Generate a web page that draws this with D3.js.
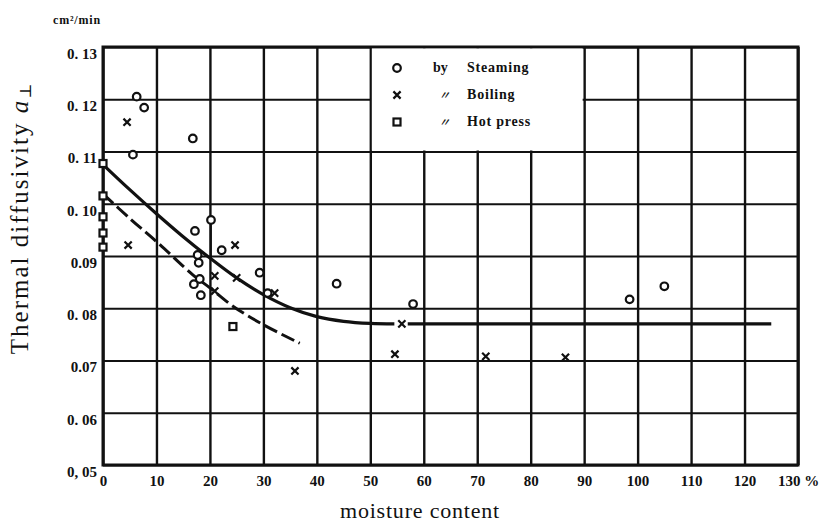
<!DOCTYPE html>
<html>
<head>
    <meta charset="utf-8">
    <title>Thermal diffusivity vs moisture content</title>
    <script src="https://cdn.jsdelivr.net/npm/d3@7"></script>
    <style>
        body { margin: 0; background: #fff; }
        svg { font-family: 'Liberation Serif', 'DejaVu Serif', serif; }
        .grid line { stroke: #111; }
        .grid .domain { display: none; }
        .grid text { fill: #111; font-size: 15px; font-weight: bold; font-family: 'Liberation Serif', 'DejaVu Serif', serif; }
    </style>
</head>
<body>
    <svg id="chart" width="822" height="524"></svg>

    <script>
        // axis ticks and labels
        var xTicks = [0, 10, 20, 30, 40, 50, 60, 70, 80, 90, 100, 110, 120, 130];
        var xTickLabels = ["0", "10", "20", "30", "40", "50", "60", "70", "80", "90", "100", "110", "120", "130 %"];
        var yTicks = [0.05, 0.06, 0.07, 0.08, 0.09, 0.10, 0.11, 0.12, 0.13];
        var yTickLabels = ["0, 05", "0. 06", "0.07", "0. 08", "0.09", "0. 10", "0. 11", "0. 12", "0. 13"];

        // measured points
        var steamX = [6.3, 7.7, 5.6, 16.8, 20.2, 17.2, 22.2, 17.7, 17.9, 18.1, 17.0, 18.3, 29.3, 30.8, 43.7, 58, 98.5, 105];
        var steamY = [0.1205, 0.1184, 0.1094, 0.1125, 0.0969, 0.0948, 0.0911, 0.0902, 0.0887, 0.0856, 0.0846, 0.0825, 0.0868, 0.0829, 0.0847, 0.0808, 0.0817, 0.0842];
        var boilX = [4.5, 4.7, 24.7, 20.9, 20.9, 25, 32.1, 35.9, 55.9, 54.6, 71.6, 86.5];
        var boilY = [0.1156, 0.0921, 0.0921, 0.0862, 0.0833, 0.0858, 0.0829, 0.068, 0.077, 0.0712, 0.0708, 0.0706];
        var hotX = [0, 0, 0, 0, 0, 24.3];
        var hotY = [0.1077, 0.1015, 0.0975, 0.0944, 0.0917, 0.0765];

        // fitted curves
        var solidX = [0, 5, 10, 15, 20, 25, 30, 35, 40, 45, 50, 54.5];
        var solidY = [0.1075, 0.1027, 0.0981, 0.0937, 0.0896, 0.0858, 0.0826, 0.0801, 0.0784, 0.0775, 0.0771, 0.077];
        var flatX = [57, 125];
        var flatY = [0.077, 0.077];
        var dashX = [0, 5, 10.3, 16.8, 20, 24.3, 29.9, 36.8];
        var dashY = [0.1019, 0.0972, 0.0925, 0.0864, 0.0839, 0.0804, 0.0769, 0.0733];

        // vertical stem under one steaming point
        var stemX = [20.2];
        var stemTop = [0.0962];
        var stemBottom = [0.0896];

        var legendPrefix = ["by", "\u3003", "\u3003"];
        var legendNames = ["Steaming", "Boiling", "Hot press"];

        var margin = { top: 47, left: 103 },
            width = 695,
            height = 418;

        var svg = d3.select("#chart")
            .append("g")
            .attr("transform", `translate(${margin.left},${margin.top})`);

        var x = d3.scaleLinear().domain([0, 130]).range([0, width]);
        var y = d3.scaleLinear().domain([0.05, 0.13]).range([height, 0]);

        // grid lines with the tick labels
        svg.append("g")
            .attr("class", "grid")
            .attr("transform", `translate(0,${height})`)
            .call(d3.axisBottom(x).tickValues(xTicks).tickSize(-height).tickPadding(10)
                .tickFormat((d, i) => xTickLabels[i]))
            .attr("font-family", null)
            .attr("font-size", null)
            .selectAll("line").attr("stroke-width", 2.4);

        svg.append("g")
            .attr("class", "grid")
            .call(d3.axisLeft(y).tickValues(yTicks).tickSize(-width).tickPadding(6)
                .tickFormat((d, i) => yTickLabels[i]))
            .attr("font-family", null)
            .attr("font-size", null)
            .call(g => g.selectAll("text").attr("dy", "0.75em"))
            .selectAll("line").attr("stroke-width", 2);

        // frame
        svg.append("rect")
            .attr("width", width)
            .attr("height", height)
            .attr("fill", "none")
            .attr("stroke", "#111")
            .attr("stroke-width", 3);

        // legend box clears the grid between 50 and 90 %
        svg.append("rect")
            .attr("x", x(50) + 1.5)
            .attr("y", 1.5)
            .attr("width", x(90) - x(50) - 3)
            .attr("height", y(0.11) - 2.5)
            .attr("fill", "#fff");

        // curves
        var line = d3.line()
            .x(d => x(d[0]))
            .y(d => y(d[1]))
            .curve(d3.curveCatmullRom.alpha(0.5));

        svg.append("path")
            .datum(d3.zip(solidX, solidY))
            .attr("fill", "none")
            .attr("stroke", "#111")
            .attr("stroke-width", 3.2)
            .attr("d", line);

        svg.append("path")
            .datum(d3.zip(flatX, flatY))
            .attr("fill", "none")
            .attr("stroke", "#111")
            .attr("stroke-width", 3.2)
            .attr("d", line);

        svg.append("path")
            .datum(d3.zip(dashX, dashY))
            .attr("fill", "none")
            .attr("stroke", "#111")
            .attr("stroke-width", 3)
            .attr("stroke-dasharray", "14,5")
            .attr("d", line);

        svg.selectAll(".stem")
            .data(d3.range(stemX.length))
            .join("line")
            .attr("x1", i => x(stemX[i]))
            .attr("x2", i => x(stemX[i]))
            .attr("y1", i => y(stemTop[i]))
            .attr("y2", i => y(stemBottom[i]))
            .attr("stroke", "#111")
            .attr("stroke-width", 1.8);

        // marker helpers
        function circle(g, cx, cy) {
            g.append("circle").attr("cx", cx).attr("cy", cy).attr("r", 3.8)
                .attr("fill", "#fff").attr("stroke", "#111").attr("stroke-width", 2.2);
        }
        function cross(g, cx, cy) {
            var s = 3.6;
            g.append("path")
                .attr("d", `M${cx - s},${cy - s}L${cx + s},${cy + s}M${cx - s},${cy + s}L${cx + s},${cy - s}`)
                .attr("stroke", "#111").attr("stroke-width", 2.2);
        }
        function square(g, cx, cy) {
            g.append("rect").attr("x", cx - 3.5).attr("y", cy - 3.5).attr("width", 7).attr("height", 7)
                .attr("fill", "#fff").attr("stroke", "#111").attr("stroke-width", 2.2);
        }

        steamX.forEach((v, i) => circle(svg, x(v), y(steamY[i])));
        boilX.forEach((v, i) => cross(svg, x(v), y(boilY[i])));
        hotX.forEach((v, i) => square(svg, x(v), y(hotY[i])));

        // legend
        var markers = [circle, cross, square];
        legendNames.forEach(function (name, i) {
            var ly = 21 + i * 27;
            markers[i](svg, 294, ly);
            svg.append("text")
                .attr("x", i === 0 ? 330 : 336)
                .attr("y", ly + 4)
                .style("font-size", i === 0 ? "14px" : "11px")
                .style("font-weight", "bold")
                .style("font-style", i === 0 ? "normal" : "italic")
                .style("font-family", i === 0 ? null : "'Noto Sans CJK JP', serif")
                .attr("fill", "#111")
                .text(legendPrefix[i]);
            svg.append("text")
                .attr("x", 364)
                .attr("y", ly + 4)
                .style("font-size", "14px")
                .style("font-weight", "bold")
                .style("letter-spacing", "0.8px")
                .attr("fill", "#111")
                .text(name);
        });

        // unit and axis titles
        d3.select("#chart").append("text")
            .attr("x", 53)
            .attr("y", 24)
            .style("font-size", "12px")
            .style("font-weight", "bold")
            .style("letter-spacing", "0.8px")
            .attr("fill", "#111")
            .text("cm\u00b2/min");

        var yTitle = d3.select("#chart").append("text")
            .attr("transform", "translate(28,218) rotate(-90)")
            .attr("text-anchor", "middle")
            .style("font-size", "25px")
            .style("letter-spacing", "2px")
            .attr("fill", "#111");
        yTitle.append("tspan").text("Thermal diffusivity ");
        yTitle.append("tspan").style("font-style", "italic").text("a");
        yTitle.append("tspan").attr("dy", 3).style("font-size", "16px").text("\u22a5");

        d3.select("#chart").append("text")
            .attr("x", 420)
            .attr("y", 518)
            .attr("text-anchor", "middle")
            .style("font-size", "22px")
            .style("letter-spacing", "0.8px")
            .attr("fill", "#111")
            .text("moisture content");
    </script>
</body>
</html>
